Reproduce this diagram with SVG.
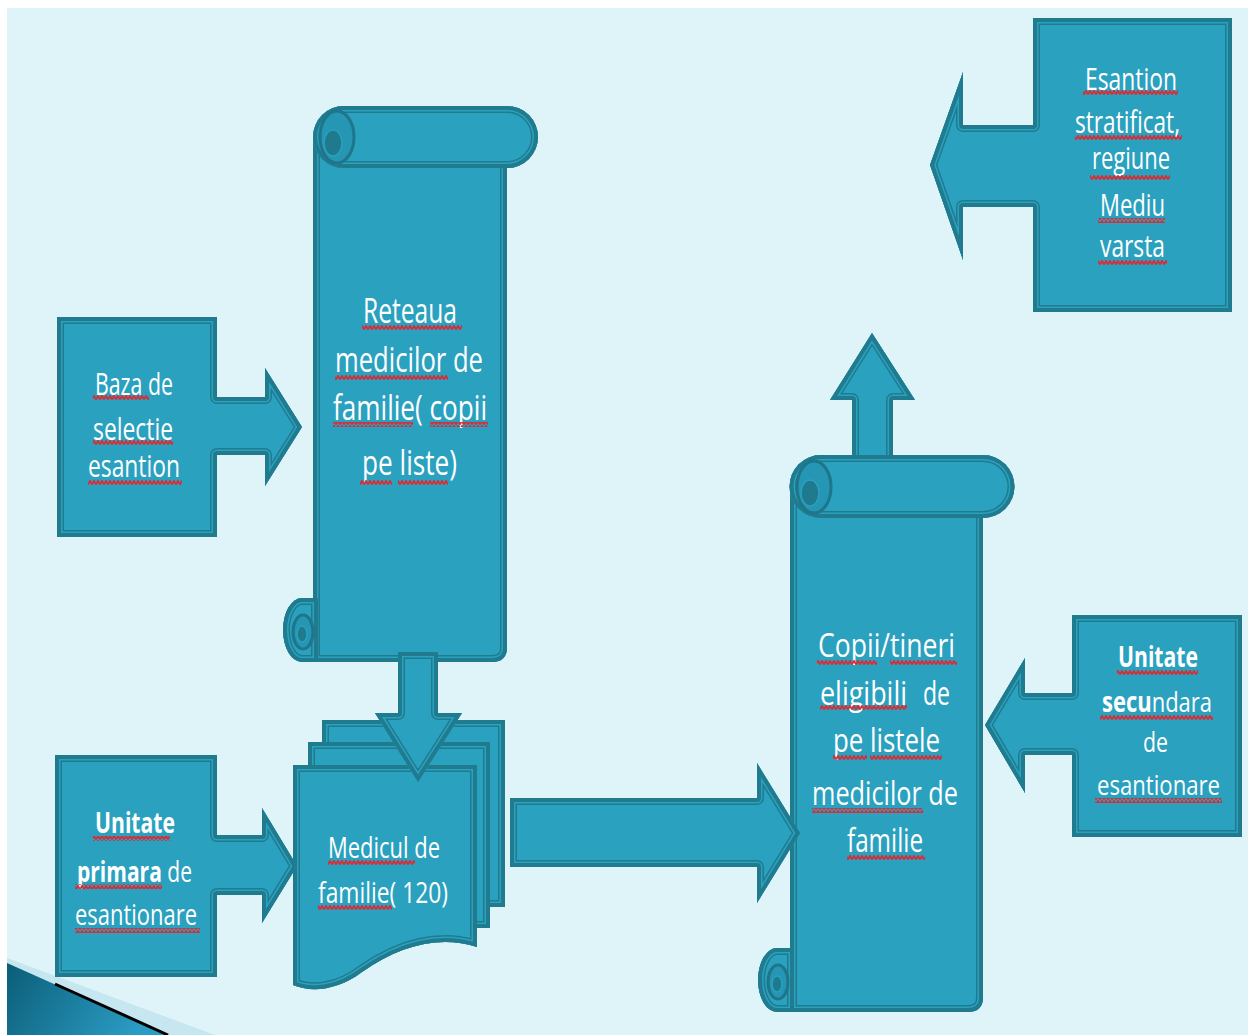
<svg xmlns="http://www.w3.org/2000/svg" xmlns:xlink="http://www.w3.org/1999/xlink" width="1248" height="1035" viewBox="0 0 1248 1035">
  <style>
    .fill { fill: #2aa1bf; }
    .b1 { fill: none; stroke: #217b8f; stroke-width: 14; stroke-linejoin: round; }
    .b2 { fill: none; stroke: #2aa1bf; stroke-width: 11; stroke-linejoin: round; }
    .b3 { fill: none; stroke: #217b8f; stroke-width: 8; stroke-linejoin: round; }
    .spiral { fill: #2596b3; stroke: #1f7589; stroke-width: 3; }
    .core { fill: #1f7a8e; stroke: #2aa1bf; stroke-width: 1.5; }
    .t { font-family: "Open Sans", "Liberation Sans", sans-serif; fill: #ffffff; }
    .bold { font-weight: bold; }
    .sq { fill: url(#squiggle); }
  </style>
  <defs>
    <!-- spell-check style wavy underline -->
    <pattern id="squiggle" patternUnits="userSpaceOnUse" width="4" height="5">
      <path d="M0,4.5 L2,0.8 L4,4.5" fill="none" stroke="#e3262e" stroke-width="1.6"/>
    </pattern>
    <linearGradient id="corner" x1="0" y1="0" x2="1" y2="0.3">
      <stop offset="0" stop-color="#0b5d77"/>
      <stop offset="1" stop-color="#2b9cc4"/>
    </linearGradient>

    <!-- outlines -->
    <path id="p-baza" d="M57,317 H217 V397 H265 V368 L302,427 L265,486 V455 H217 V537 H57 Z"/>
    <path id="p-uprim" d="M55,755 H217 V835 H262 V808 L297,866 L262,923 V895 H217 V977 H55 Z"/>
    <path id="p-esant" d="M1033,18 H1232 V312 H1033 V207 H963 V260 L930,165 L963,72 V125 H1033 Z"/>
    <path id="p-usec" d="M1072,615 H1242 V837 H1072 V755 H1025 V793 L985,725 L1025,658 V693 H1072 Z"/>
    <path id="p-big" d="M510,798 H757 V763 L800,833 L757,903 V867 H510 Z"/>
    <path id="p-down" d="M398,652 H438 V713 H462 L418,782 L375,713 H398 Z"/>
    <path id="p-up" d="M852,470 V400 H830 L872,333 L915,400 H893 V470 Z"/>

    <!-- scroll: network of family doctors -->
    <path id="p-a-body" d="M313,140 H507 V647 Q507,662 492,662 H313 Z"/>
    <path id="p-a-roll" d="M344,106 H507 A31,31 0 0 1 507,168 H344 A31,31 0 0 1 344,106 Z"/>
    <path id="p-a-foot" d="M302,598 A19,32 0 0 0 302,662 H318 V598 Z"/>

    <!-- scroll: eligible children -->
    <path id="p-b-body" d="M790,488 H983 V997 Q983,1012 968,1012 H790 Z"/>
    <path id="p-b-roll" d="M821,455 H983 A31.5,31.5 0 0 1 983,518 H821 A31.5,31.5 0 0 1 821,455 Z"/>
    <path id="p-b-foot" d="M777,948 A19,32 0 0 0 777,1012 H794 V948 Z"/>

    <!-- stacked documents -->
    <path id="p-doc3" d="M322,720 H505 V907 H322 Z"/>
    <path id="p-doc2" d="M308,742 H490 V928 H308 Z"/>
    <path id="p-doc1" d="M293,765 H477 V947 C440,935 400,945 362,972 C338,990 312,993 293,985 Z"/>

    <clipPath id="c-baza"><use href="#p-baza"/></clipPath>
    <clipPath id="c-uprim"><use href="#p-uprim"/></clipPath>
    <clipPath id="c-esant"><use href="#p-esant"/></clipPath>
    <clipPath id="c-usec"><use href="#p-usec"/></clipPath>
    <clipPath id="c-big"><use href="#p-big"/></clipPath>
    <clipPath id="c-down"><use href="#p-down"/></clipPath>
    <clipPath id="c-up"><use href="#p-up"/></clipPath>
    <clipPath id="c-a-body"><use href="#p-a-body"/></clipPath>
    <clipPath id="c-a-roll"><use href="#p-a-roll"/></clipPath>
    <clipPath id="c-a-foot"><use href="#p-a-foot"/></clipPath>
    <clipPath id="c-b-body"><use href="#p-b-body"/></clipPath>
    <clipPath id="c-b-roll"><use href="#p-b-roll"/></clipPath>
    <clipPath id="c-b-foot"><use href="#p-b-foot"/></clipPath>
    <clipPath id="c-doc3"><use href="#p-doc3"/></clipPath>
    <clipPath id="c-doc2"><use href="#p-doc2"/></clipPath>
    <clipPath id="c-doc1"><use href="#p-doc1"/></clipPath>
  </defs>

  <!-- page -->
  <rect x="0" y="0" width="1248" height="1035" fill="#ffffff"/>
  <rect x="7" y="8" width="1241" height="1027" fill="#dff4f9"/>

  <!-- corner ornament -->
  <g id="corner-ornament">
    <polygon points="7,958 215,1035 7,1035" fill="#c6e6f0"/>
    <polygon points="7,963 168,1035 7,1035" fill="url(#corner)"/>
    <line x1="55" y1="984" x2="168" y2="1035" stroke="#000000" stroke-width="3"/>
  </g>

  <!-- scroll shapes and documents -->
  <g id="scroll-retea">
    <g clip-path="url(#c-a-body)"><use href="#p-a-body" class="fill"/><use href="#p-a-body" class="b1"/><use href="#p-a-body" class="b2"/><use href="#p-a-body" class="b3"/></g>
    <g clip-path="url(#c-a-foot)"><use href="#p-a-foot" class="fill"/><use href="#p-a-foot" class="b1"/><use href="#p-a-foot" class="b2"/><use href="#p-a-foot" class="b3"/></g>
    <ellipse cx="303" cy="632" rx="10" ry="17" class="spiral"/>
    <ellipse cx="302" cy="634" rx="5" ry="8" class="core"/>
    <g clip-path="url(#c-a-roll)"><use href="#p-a-roll" class="fill"/><use href="#p-a-roll" class="b1"/><use href="#p-a-roll" class="b2"/><use href="#p-a-roll" class="b3"/></g>
    <ellipse cx="337" cy="137" rx="17" ry="26" class="spiral"/>
    <ellipse cx="333" cy="143" rx="9" ry="13" class="core"/>
  </g>

  <g id="docs-medic">
    <g clip-path="url(#c-doc3)"><use href="#p-doc3" class="fill"/><use href="#p-doc3" class="b1"/><use href="#p-doc3" class="b2"/><use href="#p-doc3" class="b3"/></g>
    <g clip-path="url(#c-doc2)"><use href="#p-doc2" class="fill"/><use href="#p-doc2" class="b1"/><use href="#p-doc2" class="b2"/><use href="#p-doc2" class="b3"/></g>
    <g clip-path="url(#c-doc1)"><use href="#p-doc1" class="fill"/><use href="#p-doc1" class="b1"/><use href="#p-doc1" class="b2"/><use href="#p-doc1" class="b3"/></g>
  </g>

  <g id="up-arrow">
    <g clip-path="url(#c-up)"><use href="#p-up" class="fill"/><use href="#p-up" class="b1"/><use href="#p-up" class="b2"/><use href="#p-up" class="b3"/></g>
  </g>

  <g id="scroll-copii">
    <g clip-path="url(#c-b-body)"><use href="#p-b-body" class="fill"/><use href="#p-b-body" class="b1"/><use href="#p-b-body" class="b2"/><use href="#p-b-body" class="b3"/></g>
    <g clip-path="url(#c-b-foot)"><use href="#p-b-foot" class="fill"/><use href="#p-b-foot" class="b1"/><use href="#p-b-foot" class="b2"/><use href="#p-b-foot" class="b3"/></g>
    <ellipse cx="778" cy="982" rx="10" ry="17" class="spiral"/>
    <ellipse cx="777" cy="984" rx="5" ry="8" class="core"/>
    <g clip-path="url(#c-b-roll)"><use href="#p-b-roll" class="fill"/><use href="#p-b-roll" class="b1"/><use href="#p-b-roll" class="b2"/><use href="#p-b-roll" class="b3"/></g>
    <ellipse cx="814" cy="487" rx="17" ry="26" class="spiral"/>
    <ellipse cx="810" cy="493" rx="9" ry="13" class="core"/>
  </g>

  <!-- callout boxes with their arrows -->
  <g id="box-baza">
    <g clip-path="url(#c-baza)"><use href="#p-baza" class="fill"/><use href="#p-baza" class="b1"/><use href="#p-baza" class="b2"/><use href="#p-baza" class="b3"/></g>
  </g>
  <g id="box-unitate-primara">
    <g clip-path="url(#c-uprim)"><use href="#p-uprim" class="fill"/><use href="#p-uprim" class="b1"/><use href="#p-uprim" class="b2"/><use href="#p-uprim" class="b3"/></g>
  </g>
  <g id="box-esantion">
    <g clip-path="url(#c-esant)"><use href="#p-esant" class="fill"/><use href="#p-esant" class="b1"/><use href="#p-esant" class="b2"/><use href="#p-esant" class="b3"/></g>
  </g>
  <g id="box-unitate-secundara">
    <g clip-path="url(#c-usec)"><use href="#p-usec" class="fill"/><use href="#p-usec" class="b1"/><use href="#p-usec" class="b2"/><use href="#p-usec" class="b3"/></g>
  </g>

  <!-- block arrows between shapes -->
  <g id="connectors">
    <g clip-path="url(#c-down)"><use href="#p-down" class="fill"/><use href="#p-down" class="b1"/><use href="#p-down" class="b2"/><use href="#p-down" class="b3"/></g>
    <g clip-path="url(#c-big)"><use href="#p-big" class="fill"/><use href="#p-big" class="b1"/><use href="#p-big" class="b2"/><use href="#p-big" class="b3"/></g>
  </g>

  <!-- labels -->
  <g id="label-baza">
    <text class="t" font-size="31" x="95" y="395" textLength="78" lengthAdjust="spacingAndGlyphs">Baza de</text>
    <text class="t" font-size="31" x="93" y="440" textLength="80" lengthAdjust="spacingAndGlyphs">selectie</text>
    <text class="t" font-size="31" x="88" y="477" textLength="92" lengthAdjust="spacingAndGlyphs">esantion</text>
    <rect class="sq" x="93" y="395" width="56" height="5"/>
    <rect class="sq" x="93" y="440" width="80" height="5"/>
    <rect class="sq" x="88" y="480" width="94" height="5"/>
  </g>

  <g id="label-retea">
    <text class="t" font-size="35" x="363" y="323" textLength="94" lengthAdjust="spacingAndGlyphs">Reteaua</text>
    <text class="t" font-size="35" x="335" y="372" textLength="148" lengthAdjust="spacingAndGlyphs">medicilor de</text>
    <text class="t" font-size="35" x="333" y="420" textLength="154" lengthAdjust="spacingAndGlyphs">familie( copii</text>
    <text class="t" font-size="35" x="362" y="475" textLength="95" lengthAdjust="spacingAndGlyphs">pe liste)</text>
    <rect class="sq" x="362" y="325" width="100" height="5"/>
    <rect class="sq" x="335" y="375" width="113" height="5"/>
    <rect class="sq" x="333" y="422" width="80" height="5"/>
    <rect class="sq" x="430" y="422" width="58" height="5"/>
    <rect class="sq" x="360" y="480" width="32" height="5"/>
    <rect class="sq" x="398" y="480" width="50" height="5"/>
  </g>

  <g id="label-medic">
    <text class="t" font-size="30" x="328" y="858" textLength="112" lengthAdjust="spacingAndGlyphs">Medicul de</text>
    <text class="t" font-size="30" x="318" y="903" textLength="130" lengthAdjust="spacingAndGlyphs">familie( 120)</text>
    <rect class="sq" x="328" y="860" width="87" height="5"/>
    <rect class="sq" x="318" y="905" width="74" height="5"/>
  </g>

  <g id="label-copii">
    <text class="t" font-size="33" x="818" y="657" textLength="137" lengthAdjust="spacingAndGlyphs">Copii/tineri</text>
    <text class="t" font-size="33" x="820" y="705" textLength="87" lengthAdjust="spacingAndGlyphs">eligibili</text>
    <text class="t" font-size="33" x="923" y="705" textLength="27" lengthAdjust="spacingAndGlyphs">de</text>
    <text class="t" font-size="33" x="833" y="752" textLength="107" lengthAdjust="spacingAndGlyphs">pe listele</text>
    <text class="t" font-size="33" x="812" y="805" textLength="146" lengthAdjust="spacingAndGlyphs">medicilor de</text>
    <text class="t" font-size="33" x="847" y="852" textLength="76" lengthAdjust="spacingAndGlyphs">familie</text>
    <rect class="sq" x="817" y="660" width="60" height="5"/>
    <rect class="sq" x="890" y="660" width="67" height="5"/>
    <rect class="sq" x="820" y="705" width="87" height="5"/>
    <rect class="sq" x="833" y="755" width="34" height="5"/>
    <rect class="sq" x="870" y="755" width="72" height="5"/>
    <rect class="sq" x="812" y="808" width="111" height="5"/>
    <rect class="sq" x="847" y="855" width="78" height="5"/>
  </g>

  <g id="label-esantion">
    <text class="t" font-size="31" x="1085" y="90" textLength="92" lengthAdjust="spacingAndGlyphs">Esantion</text>
    <text class="t" font-size="31" x="1075" y="133" textLength="105" lengthAdjust="spacingAndGlyphs">stratificat,</text>
    <text class="t" font-size="31" x="1092" y="169" textLength="78" lengthAdjust="spacingAndGlyphs">regiune</text>
    <text class="t" font-size="31" x="1100" y="216" textLength="65" lengthAdjust="spacingAndGlyphs">Mediu</text>
    <text class="t" font-size="31" x="1100" y="257" textLength="65" lengthAdjust="spacingAndGlyphs">varsta</text>
    <rect class="sq" x="1083" y="90" width="95" height="5"/>
    <rect class="sq" x="1075" y="135" width="107" height="5"/>
    <rect class="sq" x="1090" y="175" width="80" height="5"/>
    <rect class="sq" x="1098" y="218" width="67" height="5"/>
    <rect class="sq" x="1098" y="260" width="69" height="5"/>
  </g>

  <g id="label-unitate-secundara">
    <text class="t bold" font-size="28" x="1118" y="667" textLength="80" lengthAdjust="spacingAndGlyphs">Unitate</text>
    <text class="t" font-size="28" x="1102" y="712" textLength="110" lengthAdjust="spacingAndGlyphs"><tspan class="bold">secu</tspan>ndara</text>
    <text class="t" font-size="28" x="1143" y="752" textLength="25" lengthAdjust="spacingAndGlyphs">de</text>
    <text class="t" font-size="28" x="1097" y="795" textLength="123" lengthAdjust="spacingAndGlyphs">esantionare</text>
    <rect class="sq" x="1117" y="670" width="81" height="5"/>
    <rect class="sq" x="1100" y="715" width="113" height="5"/>
    <rect class="sq" x="1095" y="798" width="127" height="5"/>
  </g>

  <g id="label-unitate-primara">
    <text class="t bold" font-size="29" x="95" y="833" textLength="80" lengthAdjust="spacingAndGlyphs">Unitate</text>
    <text class="t" font-size="29" x="77" y="882" textLength="115" lengthAdjust="spacingAndGlyphs"><tspan class="bold">primara</tspan> de</text>
    <text class="t" font-size="29" x="75" y="925" textLength="122" lengthAdjust="spacingAndGlyphs">esantionare</text>
    <rect class="sq" x="93" y="836" width="77" height="5"/>
    <rect class="sq" x="75" y="884" width="87" height="5"/>
    <rect class="sq" x="75" y="928" width="125" height="5"/>
  </g>
</svg>
